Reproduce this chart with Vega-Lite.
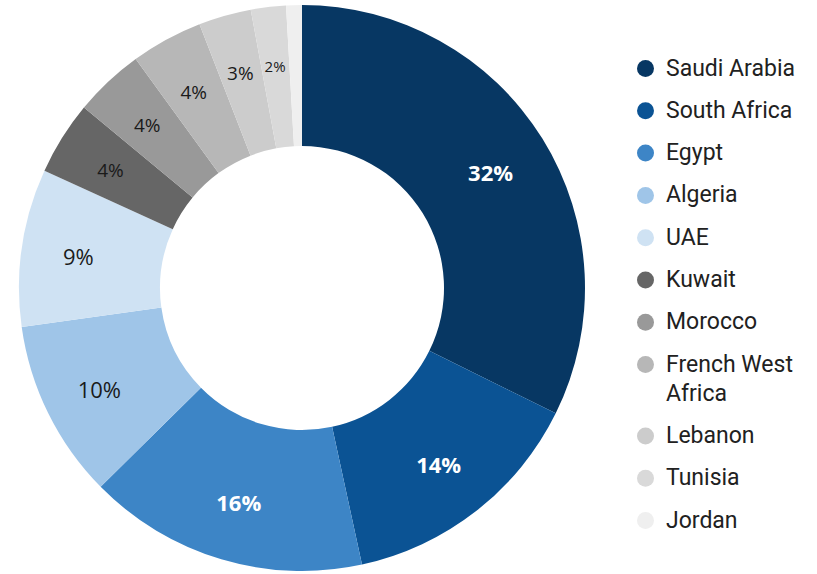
{
  "$schema": "https://vega.github.io/schema/vega-lite/v6.json",
  "width": 604,
  "height": 572,
  "padding": {"left": 0, "top": 2, "right": 0, "bottom": 0},
  "background": "white",
  "config": {"view": {"stroke": null}, "style": {"guide-label": {"lineHeight": 29}}},
  "data": {
    "values": [
      {"country": "Saudi Arabia", "value": 32.3, "label": "32%"},
      {"country": "South Africa", "value": 14.3, "label": "14%"},
      {"country": "Egypt", "value": 16.0, "label": "16%"},
      {"country": "Algeria", "value": 10.2, "label": "10%"},
      {"country": "UAE", "value": 9.0, "label": "9%"},
      {"country": "Kuwait", "value": 4.2, "label": "4%"},
      {"country": "Morocco", "value": 4.0, "label": "4%"},
      {"country": "French West Africa", "value": 4.1, "label": "4%"},
      {"country": "Lebanon", "value": 3.0, "label": "3%"},
      {"country": "Tunisia", "value": 2.0, "label": "2%"},
      {"country": "Jordan", "value": 0.9, "label": ""}
    ]
  },
  "transform": [{"window": [{"op": "row_number", "as": "idx"}]}],
  "encoding": {
    "theta": {"field": "value", "type": "quantitative", "stack": true},
    "order": {"field": "idx", "type": "quantitative"}
  },
  "layer": [
    {
      "mark": {"type": "arc", "radius": 283, "radius2": 142, "stroke": null},
      "encoding": {
        "color": {
          "field": "country",
          "type": "nominal",
          "sort": ["Saudi Arabia", "South Africa", "Egypt", "Algeria", "UAE", "Kuwait", "Morocco", "French West Africa", "Lebanon", "Tunisia", "Jordan"],
          "scale": {
            "domain": ["Saudi Arabia", "South Africa", "Egypt", "Algeria", "UAE", "Kuwait", "Morocco", "French West Africa", "Lebanon", "Tunisia", "Jordan"],
            "range": ["#073763", "#0b5394", "#3d85c6", "#9fc5e8", "#cfe2f3", "#666666", "#999999", "#b7b7b7", "#cccccc", "#d9d9d9", "#efefef"]
          },
          "legend": {
            "title": null,
            "orient": "none",
            "legendX": 634,
            "legendY": 55,
            "padding": 0,
            "symbolType": "circle",
            "symbolSize": 289,
            "symbolStrokeWidth": 0,
            "labelFont": "Roboto",
            "labelFontSize": 23,
            "labelColor": "#212121",
            "labelOffset": 9,
            "labelLimit": 300,
            "rowPadding": 18.3,
            "labelExpr": "datum.label == 'French West Africa' ? ['French West', 'Africa'] : datum.label"
          }
        }
      }
    },
    {
      "mark": {"type": "text", "radius": 222, "dy": 3, "font": "Open Sans", "fontWeight": "bold", "fontSize": 22, "color": "white"},
      "encoding": {"text": {"condition": {"test": "datum.value > 12", "field": "label"}, "value": ""}}
    },
    {
      "mark": {"type": "text", "radius": 226, "dy": 3, "font": "Open Sans", "color": "#1a1a1a"},
      "encoding": {
        "text": {"condition": {"test": "datum.value <= 12", "field": "label"}, "value": ""},
        "size": {
          "condition": [
            {"test": "datum.value >= 5", "value": 22},
            {"test": "datum.value < 2.5", "value": 15}
          ],
          "value": 19
        }
      }
    }
  ]
}
